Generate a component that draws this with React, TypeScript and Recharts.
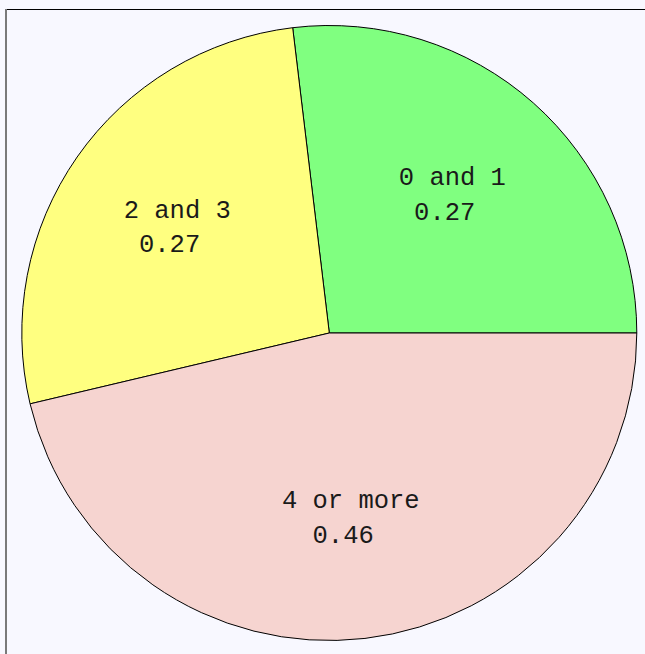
import React from "react";
import { PieChart, Pie, Cell } from "recharts";

const categories = ["0 and 1", "2 and 3", "4 or more"];
const shares = [0.269, 0.268, 0.463];
const colors = ["#80ff80", "#ffff80", "#f6d4d0"];

const data = categories.map((name, i) => ({ name, value: shares[i] }));

const W = 645;
const H = 654;
const CX = 329.3;
const CY = 333;
const R = 307.5;
const FONT = 25.5;
const RADIAN = Math.PI / 180;
const MONO = "'Courier New', Courier, 'Nimbus Mono PS', 'Nimbus Mono L', FreeMono, 'Liberation Mono', monospace";

const renderLabel = (props: any) => {
  const { midAngle, index } = props;
  const cx = typeof props.cx === "number" ? props.cx : CX;
  const cy = typeof props.cy === "number" ? props.cy : CY;
  const r = R * 0.603;
  const x = cx + r * Math.cos(-midAngle * RADIAN);
  const y = cy + r * Math.sin(-midAngle * RADIAN);
  const d = data[index];
  return (
    <g key={`lbl-${index}`}>
      <text x={x} y={y - 9.3} textAnchor="middle" fontFamily={MONO} fontSize={FONT} fill="#1a1a1a">
        {d.name}
      </text>
      <text x={x - FONT * 0.3} y={y + 25.4} textAnchor="middle" fontFamily={MONO} fontSize={FONT} fill="#1a1a1a">
        {d.value.toFixed(2)}
      </text>
    </g>
  );
};

export default function App() {
  return (
    <div
      style={{
        position: "absolute",
        left: 0,
        top: 0,
        width: W,
        height: H,
        background: "#f8f8ff",
        overflow: "hidden",
      }}
    >
      <div style={{ position: "absolute", left: 5, top: 9, width: W - 5, height: 1, background: "#000" }} />
      <div style={{ position: "absolute", left: 5, top: 9, width: 2, height: H - 9, background: "#7a7a7a" }} />
      <div style={{ position: "absolute", left: 0, top: 0 }}>
        <PieChart width={W} height={H} margin={{ top: 0, right: 0, bottom: 0, left: 0 }}>
          <Pie
            data={data}
            dataKey="value"
            nameKey="name"
            cx={CX}
            cy={CY}
            outerRadius={R}
            innerRadius={0}
            startAngle={0}
            endAngle={360}
            stroke="#000"
            strokeWidth={1}
            label={renderLabel}
            labelLine={false}
            isAnimationActive={false}
          >
            {data.map((d, i) => (
              <Cell key={d.name} fill={colors[i]} />
            ))}
          </Pie>
        </PieChart>
      </div>
    </div>
  );
}
